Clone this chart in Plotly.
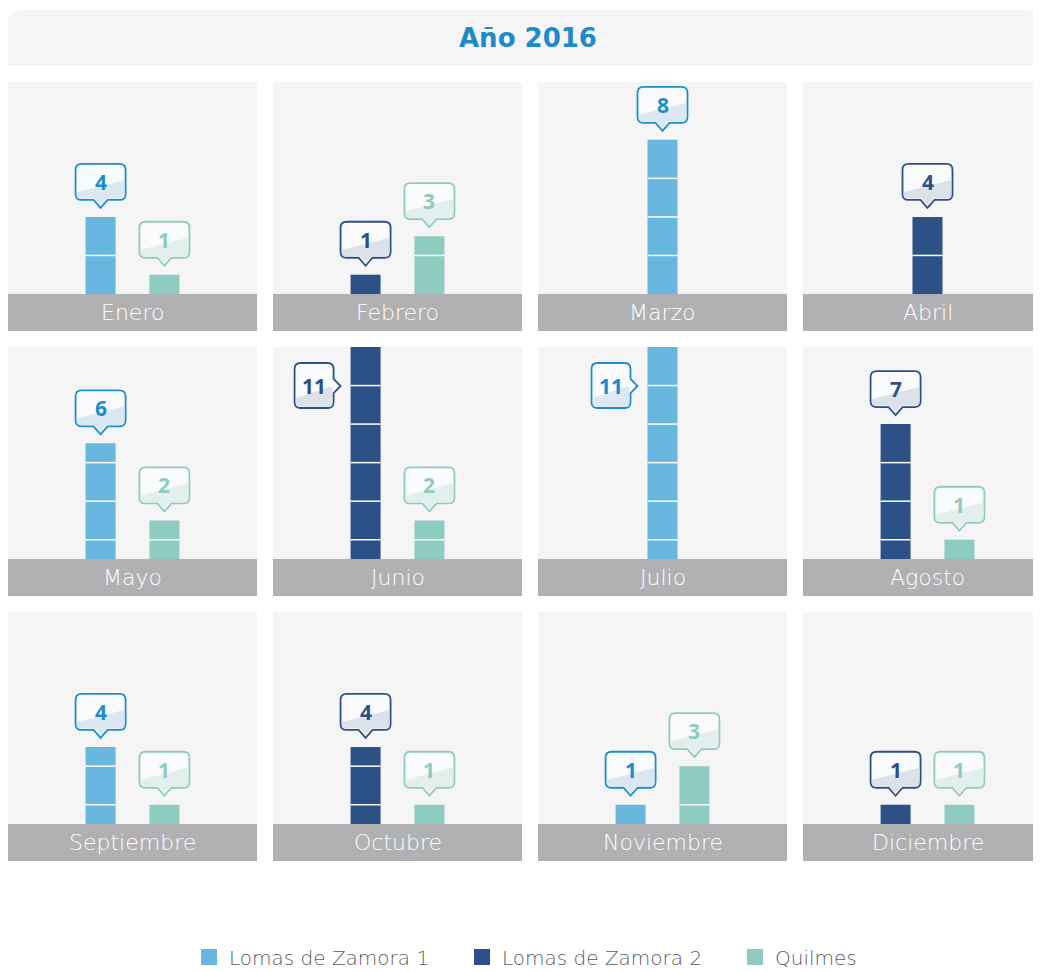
import plotly.graph_objects as go

# datos
months = ['Enero', 'Febrero', 'Marzo', 'Abril', 'Mayo', 'Junio',
          'Julio', 'Agosto', 'Septiembre', 'Octubre', 'Noviembre', 'Diciembre']
series = ['Lomas de Zamora 1', 'Lomas de Zamora 2', 'Quilmes']
lomas1 = [4, 0, 8, 0, 6, 0, 11, 0, 4, 0, 1, 0]
lomas2 = [0, 1, 0, 4, 0, 11, 0, 7, 0, 4, 0, 1]
quilmes = [1, 3, 0, 0, 2, 2, 0, 1, 1, 1, 3, 1]
title = 'Año 2016'

# la pagina tiene 8px de margen en el body
W, H = 1033, 964
FONT = 'DejaVu Sans'
NUM_FONT = 'Noto Sans'
bar_colors = ['#68b7de', '#2c5186', '#8ecbc1']
text_colors = ['#1b8dcb', '#2c5186', '#8ecbc1']
tint_colors = ['#dbe8f2', '#dde2ea', '#e3efed']
panel_bg = '#f5f5f5'
label_bg = '#b1b1b3'

col_left = [0, 265, 530, 795]
row_top = [74, 339, 604]
panel_w, plot_h, label_h = 249, 212, 37
y_top = 11
y_bottom = -label_h * y_top / plot_h
x_half = 1.95
bar_w = 30 * 2 * x_half / panel_w


def down_bubble():
    L, R, B, T, r, tip, n = -25, 25, 17, 53, 6, 9, 7
    outline = (f"M{L+r},{B} L{-n},{B} L0,{tip} L{n},{B} L{R-r},{B} Q{R},{B} {R},{B+r} "
               f"L{R},{T-r} Q{R},{T} {R-r},{T} L{L+r},{T} Q{L},{T} {L},{T-r} "
               f"L{L},{B+r} Q{L},{B} {L+r},{B} Z")
    i = 1.3
    tint = (f"M{L+i},{B+8} L{R-i},{B+20} L{R-i},{B+3} L{R-3},{B+i} L{n-1.5},{B+i} "
            f"L0,{tip+2.5} L{-n+1.5},{B+i} L{L+3},{B+i} L{L+i},{B+3} Z")
    return outline, tint, 0, (B + T) / 2


def side_bubble():
    L, R, B, T, r = -71, -32, -61, -16, 6
    outline = (f"M{L+r},{B} L{R-r},{B} Q{R},{B} {R},{B+r} L{R},-46 L-25,-39 L{R},-32 "
               f"L{R},{T-r} Q{R},{T} {R-r},{T} L{L+r},{T} Q{L},{T} {L},{T-r} "
               f"L{L},{B+r} Q{L},{B} {L+r},{B} Z")
    i = 1.3
    tint = (f"M{L+i},{B+10} L{R-i},{B+22} L{R-i},{B+3} L{R-3},{B+i} "
            f"L{L+3},{B+i} L{L+i},{B+3} Z")
    return outline, tint, (L + R) / 2, (B + T) / 2


fig = go.Figure()
shapes = []
annotations = []

# pestaña del titulo
shapes.append(dict(
    type='path', xref='paper', yref='paper', xsizemode='pixel', ysizemode='pixel',
    xanchor=0, yanchor=1,
    path='M0,-58 L0,-16 Q0,-2 14,-2 L1018,-2 Q1032,-2 1032,-16 L1032,-58 Z',
    fillcolor=panel_bg, line=dict(width=0), layer='below'))
annotations.append(dict(
    xref='paper', yref='paper', x=520 / W, y=1 - 30 / H, text=title, showarrow=False,
    xanchor='center', yanchor='middle',
    font=dict(family=FONT, size=26, color='#1e8bc9', weight='bold')))

layout_axes = {}
values = [lomas1, lomas2, quilmes]

for i, month in enumerate(months):
    row, col = i // 4, i % 4
    k = i + 1
    xname = 'x' if k == 1 else f'x{k}'
    yname = 'y' if k == 1 else f'y{k}'
    left = col_left[col]
    right = min(left + panel_w, W)
    top = row_top[row]
    x_range = [-x_half, -x_half + 2 * x_half * (right - left) / panel_w]
    layout_axes['xaxis' if k == 1 else f'xaxis{k}'] = dict(
        domain=[left / W, right / W], range=x_range, anchor=yname,
        showgrid=False, zeroline=False, showticklabels=False, showline=False,
        ticks='', fixedrange=True)
    layout_axes['yaxis' if k == 1 else f'yaxis{k}'] = dict(
        domain=[1 - (top + plot_h + label_h) / H, 1 - top / H], range=[y_bottom, y_top],
        anchor=xname, showgrid=False, zeroline=False, showticklabels=False,
        showline=False, ticks='', fixedrange=True)

    # barra gris del mes
    shapes.append(dict(type='rect', xref=f'{xname} domain', yref=yname,
                       x0=0, x1=1, y0=y_bottom, y1=0, fillcolor=label_bg,
                       line=dict(width=0), layer='below'))
    annotations.append(dict(xref=xname, yref=yname, x=0, y=y_bottom / 2, text=month,
                            showarrow=False, yanchor='middle',
                            font=dict(family=FONT, size=22, color='white', weight=200)))

    present = [s for s in range(3) if values[s][i] > 0]
    positions = [0] if len(present) == 1 else [-0.5, 0.5]
    for s, pos in zip(present, positions):
        v = values[s][i]
        fig.add_trace(go.Bar(x=[pos], y=[v], width=bar_w, xaxis=xname, yaxis=yname,
                             marker=dict(color=bar_colors[s], line=dict(width=0)),
                             showlegend=False, hoverinfo='skip'))
        start = 2 if row == 0 else 1
        levels = list(range(start, v, 2))
        if levels:
            fig.add_trace(go.Scatter(x=[pos] * len(levels), y=levels, mode='markers',
                                     xaxis=xname, yaxis=yname, showlegend=False,
                                     hoverinfo='skip', cliponaxis=False,
                                     marker=dict(symbol='line-ew', size=21.4,
                                                 line=dict(color='white', width=1.5))))
        outline, tint, tx, ty = side_bubble() if v >= 10 else down_bubble()
        shapes.append(dict(type='path', xref=xname, yref=yname, xsizemode='pixel',
                           ysizemode='pixel', xanchor=pos, yanchor=v, path=outline,
                           fillcolor='#fafbfc', line=dict(color=text_colors[s], width=1.8),
                           layer='above'))
        shapes.append(dict(type='path', xref=xname, yref=yname, xsizemode='pixel',
                           ysizemode='pixel', xanchor=pos, yanchor=v, path=tint,
                           fillcolor=tint_colors[s], line=dict(width=0), layer='above'))
        annotations.append(dict(xref=xname, yref=yname, x=pos, y=v, xshift=tx, yshift=ty,
                                text=str(v), showarrow=False, yanchor='middle',
                                font=dict(family=NUM_FONT, size=21, color=text_colors[s],
                                          weight='bold')))

# leyenda
for s, name in enumerate(series):
    fig.add_trace(go.Scatter(x=[None], y=[None], mode='markers', name=name,
                             marker=dict(symbol='square', size=18, color=bar_colors[s])))

fig.update_layout(
    width=W, height=H, autosize=False,
    margin=dict(l=0, r=0, t=0, b=0, autoexpand=False),
    paper_bgcolor='white', plot_bgcolor=panel_bg,
    barmode='overlay', hovermode=False,
    shapes=shapes, annotations=annotations,
    showlegend=True,
    legend=dict(orientation='h', x=181 / W, xanchor='left', y=1 - 949 / H,
                yanchor='middle', font=dict(family=FONT, size=20, color='#5c5d60',
                                            weight=200),
                entrywidth=228, itemclick=False),
    **layout_axes
)

fig.write_html('out.html')
